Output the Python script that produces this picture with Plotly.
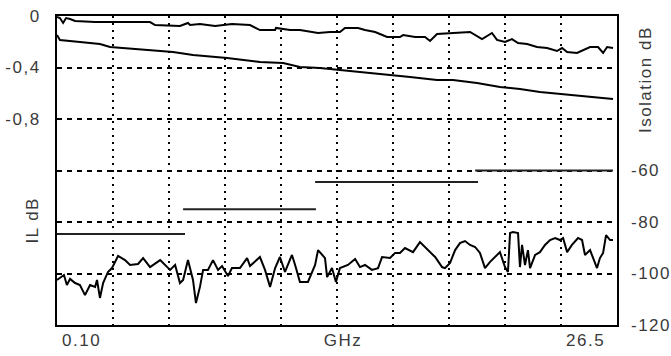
import plotly.graph_objects as go

# ---- data ----
freq_il_a = [0.10, 0.24, 0.39, 0.53, 0.72, 0.96, 1.91, 4.52, 4.76, 5.47, 5.94, 6.32, 6.42, 6.89, 7.61, 8.41,
             9.27, 9.74, 10.46, 10.50, 11.17, 11.64, 12.12, 12.50, 13.07, 13.54, 13.78, 14.40, 14.73, 15.21,
             15.78, 16.39, 16.54, 17.11, 17.58, 17.82, 18.15, 19.72, 20.29, 20.76, 21.00, 21.38, 21.71, 22.00,
             22.43, 22.90, 23.38, 23.85, 24.09, 24.33, 24.80, 25.09, 25.42, 25.80, 26.04, 26.23, 26.51]
il_a = [-0.008, -0.016, -0.054, -0.016, -0.023, -0.039, -0.047, -0.047, -0.070, -0.078, -0.078, -0.054, -0.070,
        -0.062, -0.078, -0.062, -0.070, -0.109, -0.109, -0.093, -0.109, -0.109, -0.124, -0.132, -0.124, -0.124,
        -0.093, -0.093, -0.109, -0.124, -0.163, -0.163, -0.148, -0.163, -0.163, -0.194, -0.140, -0.124, -0.179,
        -0.132, -0.186, -0.202, -0.179, -0.210, -0.217, -0.241, -0.249, -0.272, -0.249, -0.280, -0.287, -0.264,
        -0.241, -0.241, -0.287, -0.241, -0.249]

freq_il_b = [0.10, 0.24, 1.19, 2.14, 2.62, 4.52, 5.61, 6.56, 8.18, 9.74, 10.84, 11.64, 12.59, 13.54, 14.83,
             15.92, 16.87, 18.15, 18.91, 20.05, 21.14, 22.09, 23.04, 24.14, 25.42, 26.51]
il_b = [-0.148, -0.186, -0.202, -0.217, -0.241, -0.264, -0.280, -0.303, -0.326, -0.357, -0.365, -0.396, -0.404,
        -0.419, -0.443, -0.458, -0.474, -0.497, -0.497, -0.520, -0.551, -0.567, -0.590, -0.606, -0.629, -0.645]

freq_iso = [0.10, 0.24, 0.43, 0.57, 0.72, 0.96, 1.19, 1.43, 1.67, 1.91, 2.00, 2.14, 2.29, 2.52, 2.71, 3.00,
            3.33, 3.57, 3.95, 4.19, 4.52, 5.00, 5.23, 5.47, 5.71, 5.94, 6.09, 6.32, 6.56, 6.70, 6.89, 7.04,
            7.27, 7.51, 7.75, 7.94, 8.22, 8.41, 8.79, 9.13, 9.27, 9.74, 9.98, 10.22, 10.46, 10.69, 10.93, 11.26,
            11.41, 11.64, 12.02, 12.36, 12.50, 12.83, 12.93, 13.16, 13.35, 13.54, 13.92, 14.26, 14.49, 14.73,
            15.06, 15.35, 15.54, 15.92, 16.16, 16.39, 16.63, 17.01, 17.34, 17.72, 18.06, 18.39, 18.53, 18.77,
            19.01, 19.24, 19.48, 19.72, 19.96, 20.19, 20.43, 20.67, 20.91, 21.14, 21.38, 21.52, 21.62, 21.76,
            22.00, 22.09, 22.19, 22.33, 22.47, 22.57, 22.81, 23.04, 23.28, 23.52, 23.76, 23.99, 24.14, 24.33,
            24.56, 24.85, 25.04, 25.18, 25.42, 25.75, 25.89, 26.04, 26.18, 26.37, 26.51]
isolation = [-102.5, -101.7, -100.6, -104.5, -102.1, -103.7, -104.5, -108.4, -104.5, -105.2, -102.5, -109.5,
             -103.7, -99.4, -97.9, -93.2, -94.8, -96.7, -96.3, -94.0, -97.5, -94.8, -96.7, -98.6, -96.7, -103.7,
             -102.5, -94.8, -102.5, -111.5, -105.2, -98.6, -98.6, -94.8, -98.6, -97.1, -101.0, -97.9, -97.9,
             -94.0, -97.1, -93.6, -98.6, -105.2, -97.9, -93.6, -99.4, -92.8, -96.7, -103.3, -103.3, -96.7, -90.9,
             -94.0, -101.4, -97.9, -103.3, -97.9, -96.7, -94.4, -97.5, -96.7, -98.6, -97.9, -93.6, -94.0, -92.0,
             -92.0, -90.1, -91.7, -87.8, -90.9, -93.6, -97.5, -97.9, -95.9, -90.9, -88.2, -87.4, -88.9, -89.7,
             -92.0, -97.9, -95.5, -93.6, -91.7, -97.5, -99.4, -84.3, -83.9, -84.3, -97.5, -88.9, -96.7, -90.9,
             -97.9, -92.8, -91.7, -88.9, -87.0, -86.2, -87.0, -86.2, -91.7, -88.9, -86.2, -87.0, -92.8, -90.9,
             -97.9, -94.0, -92.0, -85.1, -87.0, -87.0]

limit_start = [0.10, 6.09, 12.36, 19.96]
limit_stop = [6.18, 12.40, 20.10, 26.51]
limit_db = [-84.7, -75.0, -64.5, -60.0]

il_tickvals = [0, -0.4, -0.8, -1.2, -1.6, -2.0]
il_ticktext = ["0", "-0,4", "-0,8", "", "", ""]
iso_tickvals = [-60, -80, -100, -120]
iso_ticktext = ["-60", "-80", "-100", "-120"]

# ---- figure ----
x_min, x_max = 0.1, 26.7
x_grid = [x_min + (x_max - x_min) * k / 10 for k in range(1, 10)]

lim_x, lim_y = [], []
for a, b, v in zip(limit_start, limit_stop, limit_db):
    lim_x += [a, b, None]
    lim_y += [v, v, None]

fig = go.Figure()
fig.add_trace(go.Scatter(x=freq_il_a, y=il_a, mode="lines", line=dict(color="black", width=2), yaxis="y"))
fig.add_trace(go.Scatter(x=freq_il_b, y=il_b, mode="lines", line=dict(color="black", width=2), yaxis="y"))
fig.add_trace(go.Scatter(x=freq_iso, y=isolation, mode="lines", line=dict(color="black", width=2), yaxis="y2"))
fig.add_trace(go.Scatter(x=lim_x, y=lim_y, mode="lines", line=dict(color="#222", width=2), yaxis="y2",
                         connectgaps=False))

txt = dict(family="Liberation Sans, Arial, sans-serif", size=17, color="#3a3a3a")

fig.update_layout(
    template="none",
    width=671, height=356,
    margin=dict(l=57, r=54, t=16, b=31, autoexpand=False),
    paper_bgcolor="white", plot_bgcolor="white",
    showlegend=False,
    font=txt,
    xaxis=dict(range=[x_min, x_max], tickvals=x_grid, showticklabels=False, ticks="", automargin=False,
               showgrid=True, gridcolor="black", gridwidth=2, griddash="2px,5px",
               showline=True, linecolor="black", linewidth=2, mirror=True, zeroline=False),
    yaxis=dict(range=[-2.4, 0], tickvals=il_tickvals, ticktext=il_ticktext, ticks="", automargin=False,
               ticklabelstandoff=11,
               showgrid=True, gridcolor="black", gridwidth=2, griddash="5px,5px",
               showline=True, linecolor="black", linewidth=2, mirror=True, zeroline=False),
    yaxis2=dict(range=[-120, 0], tickvals=iso_tickvals, ticktext=iso_ticktext, ticks="", automargin=False,
                overlaying="y", side="right", showgrid=False, zeroline=False,
                ticklabelstandoff=13, showline=False),
    annotations=[
        dict(text="IL dB", x=-0.043, y=0.34, xref="paper", yref="paper", textangle=-90,
             showarrow=False, font=txt, xanchor="center", yanchor="middle"),
        dict(text="Isolation dB", x=1.052, y=0.793, xref="paper", yref="paper", textangle=-90,
             showarrow=False, font=txt, xanchor="center", yanchor="middle"),
        dict(text="0.10", x=0.0446, y=-0.05, xref="paper", yref="paper", showarrow=False,
             font=txt, xanchor="center", yanchor="middle"),
        dict(text="GHz", x=0.511, y=-0.05, xref="paper", yref="paper", showarrow=False,
             font=txt, xanchor="center", yanchor="middle"),
        dict(text="26.5", x=0.943, y=-0.05, xref="paper", yref="paper", showarrow=False,
             font=txt, xanchor="center", yanchor="middle"),
    ],
)

fig.write_html(
    "out.html",
    config={"displayModeBar": False, "staticPlot": True},
    post_script=(
        "document.body.style.margin='0';document.body.style.overflow='hidden';"
        "document.querySelectorAll('svg text').forEach(function(t){t.style.letterSpacing='1.5px';});"
    ),
)
